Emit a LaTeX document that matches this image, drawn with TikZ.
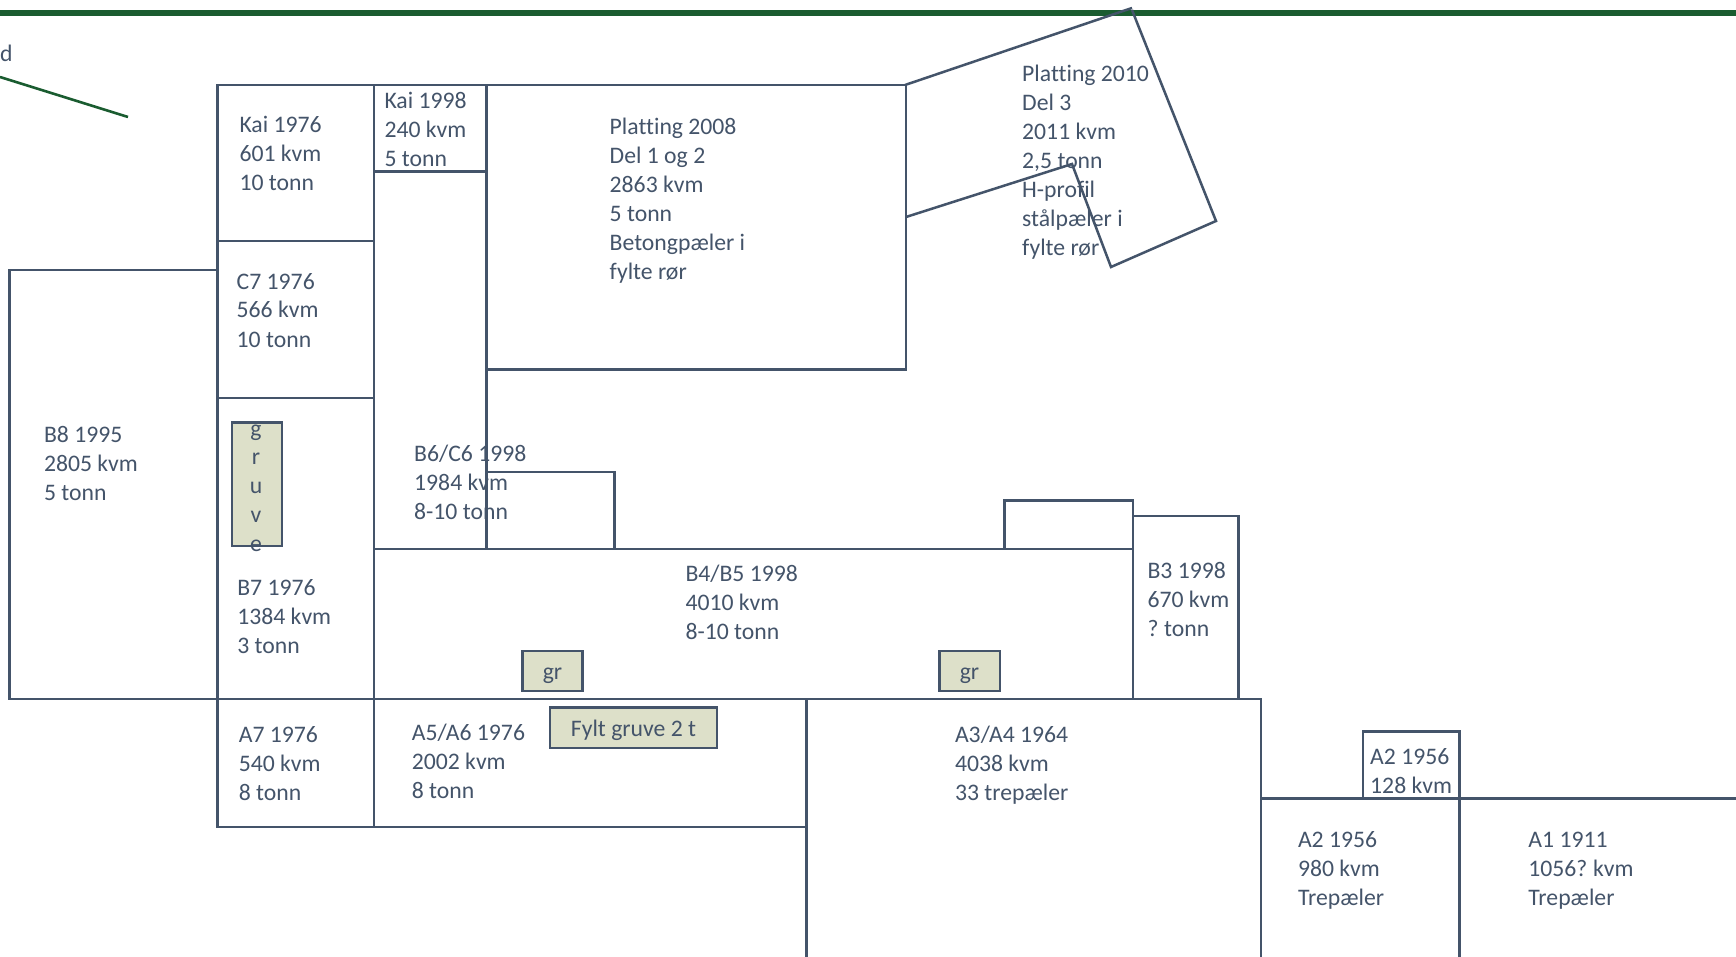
\documentclass[tikz,border=0pt]{standalone}
\usepackage{fontspec}
\setmainfont[Ligatures=NoCommon]{Carlito}
\definecolor{slate}{HTML}{44546A}
\definecolor{treegreen}{HTML}{1A5C30}
\definecolor{pit}{HTML}{DDE0C9}
\tikzset{
  plot/.style={draw=slate,line width=2.5pt,line join=miter},
  pitbox/.style={plot,fill=pit},
  lab/.style={anchor=north west,inner sep=0pt,outer sep=0pt,align=left,text=slate,
    font=\fontsize{23.7}{29}\selectfont},
  glyph/.style={anchor=base,inner sep=0pt,outer sep=0pt,text=slate,
    font=\fontsize{23.7}{29}\selectfont},
  shore/.style={draw=treegreen,line cap=butt}
}
\newcommand{\lbl}[4]{\node[lab] (#1) at (#2,{#3-18}) {\rule{0pt}{18pt}#4};}
\begin{document}
\begin{tikzpicture}[x=1pt,y=-1pt]
\useasboundingbox[fill=white] (0,0) rectangle (1736,957);
% green lines
\draw[shore,line width=5.5pt] (0,13) -- (1736,13);
\draw[shore,line width=2.6pt] (0,77) -- (128,117);
% plots
\draw[plot] (217.5,85) rectangle (374,241);
\draw[plot] (374,85) rectangle (486.5,171.5);
\draw[plot] (374,171.5) rectangle (486.5,549);
\draw[plot] (486.5,85) rectangle (906,369.5);
\draw[plot] (905,85) -- (1132,8) (1132,10) -- (1216,221) -- (1111,267) -- (1072,164) -- (906,217);
\draw[plot] (217.5,241) rectangle (374,398);
\draw[plot] (217.5,398) rectangle (374,699);
\draw[plot] (217.5,270) -- (9.5,270) -- (9.5,699) -- (217.5,699);
\draw[plot] (217.5,699) rectangle (374,827);
\draw[plot] (374,699) rectangle (806.5,827);
\draw[plot] (806.5,970) -- (806.5,699) -- (1261,699) -- (1261,970);
\draw[plot] (374,549) rectangle (1133,699);
\draw[plot] (1133,699) -- (1133,516) -- (1238.5,516) -- (1238.5,699) -- cycle;
\draw[plot] (486.5,549) -- (486.5,472) -- (614.5,472) -- (614.5,549);
\draw[plot] (1004.6,549) rectangle (1133,500.4);
\draw[plot] (1363,798.7) -- (1363,731.3) -- (1459.3,731.3) -- (1459.3,970);
\draw[plot] (1261,798.7) -- (1740,798.7);
% pits
\draw[pitbox] (232,422.7) rectangle (282,546);
\draw[pitbox] (522.3,651) rectangle (582.7,691);
\draw[pitbox] (939.3,651) rectangle (1000,691);
\draw[pitbox] (550,707.7) rectangle (717,748);
% labels
\node[lab] (dtext) at (0,44) {\rule{0pt}{18pt}d};
\lbl{kai76}{239.5}{132.9}{Kai 1976\\601 kvm\\10 tonn}
\lbl{kai98}{384.5}{109}{Kai 1998\\240 kvm\\5 tonn}
\lbl{pl08}{609.7}{135}{Platting 2008\\Del 1 og 2\\2863 kvm\\5 tonn\\Betongpæler i\\fylte rør}
\lbl{pl10}{1022.2}{81.6}{Platting 2010\\Del 3\\2011 kvm\\2,5 tonn\\H-profil\\stålpæler i\\fylte rør}
\lbl{c7}{236.7}{289}{C7 1976\\566 kvm\\10 tonn}
\lbl{b8}{44}{442.7}{B8 1995\\2805 kvm\\5 tonn}
\lbl{b6}{414.2}{461}{B6/C6 1998\\1984 kvm\\8-10 tonn}
\lbl{b7}{237.3}{595}{B7 1976\\1384 kvm\\3 tonn}
\lbl{b4}{685.5}{581}{B4/B5 1998\\4010 kvm\\8-10 tonn}
\lbl{b3}{1147.5}{578.4}{B3 1998\\670 kvm\\?\kern-1.5pt{} tonn}
\lbl{a7}{238.8}{742.7}{A7 1976\\540 kvm\\8 tonn}
\lbl{a5}{411.8}{740.5}{A5/A6 1976\\2002 kvm\\8 tonn}
\lbl{a3}{955}{742.7}{A3/A4 1964\\4038 kvm\\33 trepæler}
\lbl{a2s}{1370.2}{764}{A2 1956\\128 kvm}
\lbl{a2}{1298}{847.7}{A2 1956\\980 kvm\\Trepæler}
\lbl{a1}{1528.4}{847.7}{A1 1911\\1056?\kern-1.5pt{} kvm\\Trepæler}
\node[glyph] (g1) at (256,436) {g};
\node[glyph] (g2) at (256,464.5) {r};
\node[glyph] (g3) at (256,493.5) {u};
\node[glyph] (g4) at (256,522.5) {v};
\node[glyph] (g5) at (256,551.5) {e};
\node[glyph] (gr1) at (552.5,679) {gr};
\node[glyph] (gr2) at (969.5,679) {gr};
\node[glyph] (fylt) at (633.5,736) {Fylt gruve 2 t};
\end{tikzpicture}
\end{document}
